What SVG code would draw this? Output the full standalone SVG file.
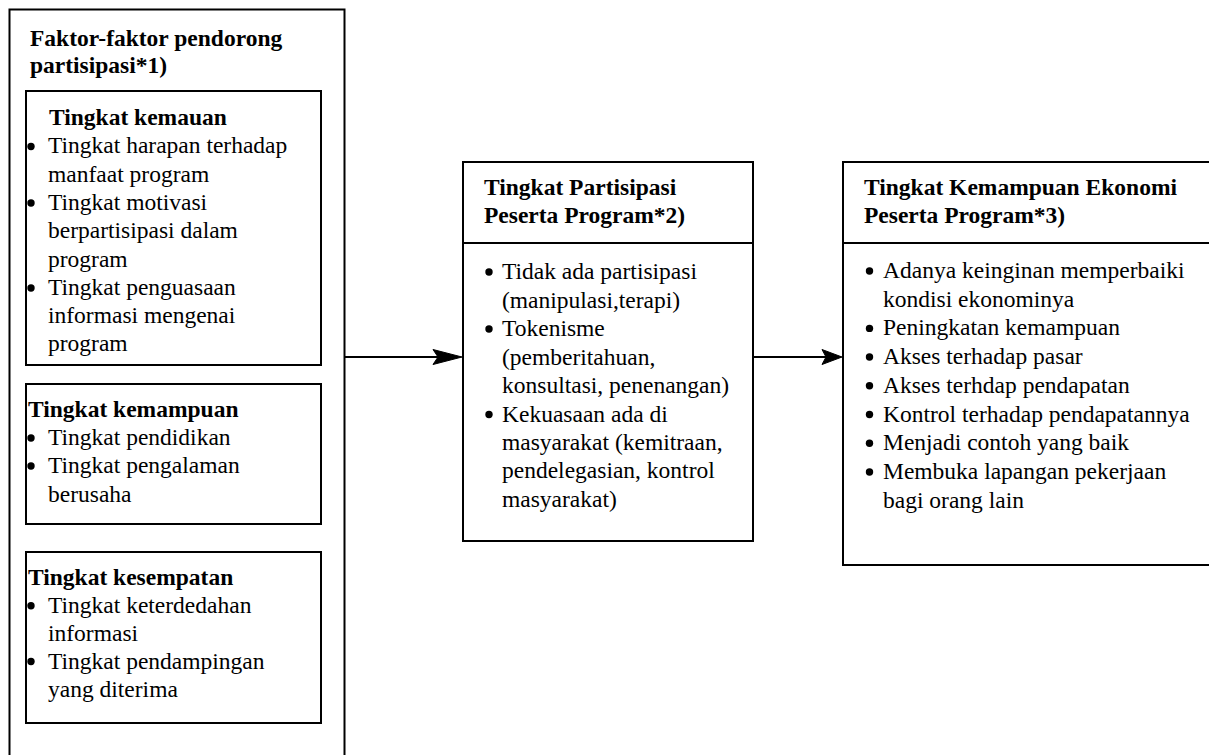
<svg xmlns="http://www.w3.org/2000/svg" width="1209" height="755" viewBox="0 0 1209 755">
<style>
  .box { fill: #ffffff; stroke: #000000; stroke-width: 2; }
  .div { stroke: #000000; stroke-width: 2; fill: none; }
  text { font-family: "Liberation Serif", "Times New Roman", serif; font-size: 23.5px; fill: #000000; }
  .b { font-weight: bold; }
  .dot { fill: #000000; }
  .conn { stroke: #000000; stroke-width: 2; fill: none; }
  .head { fill: #000000; stroke: #000000; stroke-width: 1; }
</style>
<defs>
  <circle id="dot" class="dot" cx="0" cy="0" r="3.7"/>
</defs>
<rect x="0" y="0" width="1209" height="755" fill="#ffffff"/>

<g id="faktor">
  <rect class="box" x="9.5" y="9.5" width="335" height="770"/>
  <text class="b" x="30" y="46">Faktor-faktor pendorong</text>
  <text class="b" x="30" y="73">partisipasi*1)</text>
</g>

<g id="kemauan">
  <rect class="box" x="26" y="91" width="295" height="274"/>
  <text class="b" x="49" y="125">Tingkat kemauan</text>
  <use href="#dot" x="31" y="146.5"/>
  <text x="48" y="153.3">Tingkat harapan terhadap</text>
  <text x="48" y="181.6">manfaat program</text>
  <use href="#dot" x="31" y="203"/>
  <text x="48" y="209.9">Tingkat motivasi</text>
  <text x="48" y="238.2">berpartisipasi dalam</text>
  <text x="48" y="266.5">program</text>
  <use href="#dot" x="31" y="288"/>
  <text x="48" y="294.8">Tingkat penguasaan</text>
  <text x="48" y="323.1">informasi mengenai</text>
  <text x="48" y="351.4">program</text>
</g>

<g id="kemampuan">
  <rect class="box" x="26" y="384" width="295" height="140"/>
  <text class="b" x="28" y="416.7">Tingkat kemampuan</text>
  <use href="#dot" x="31" y="438"/>
  <text x="48" y="445">Tingkat pendidikan</text>
  <use href="#dot" x="31" y="466"/>
  <text x="48" y="473">Tingkat pengalaman</text>
  <text x="48" y="501.5">berusaha</text>
</g>

<g id="kesempatan">
  <rect class="box" x="26" y="552" width="295" height="171"/>
  <text class="b" x="28" y="585">Tingkat kesempatan</text>
  <use href="#dot" x="31" y="605.7"/>
  <text x="48" y="612.7">Tingkat keterdedahan</text>
  <text x="48" y="640.5">informasi</text>
  <use href="#dot" x="31" y="661.5"/>
  <text x="48" y="668.5">Tingkat pendampingan</text>
  <text x="48" y="696.7">yang diterima</text>
</g>

<g id="partisipasi">
  <rect class="box" x="463" y="162" width="290" height="379"/>
  <line class="div" x1="463" y1="243" x2="753" y2="243"/>
  <text class="b" x="484" y="195">Tingkat Partisipasi</text>
  <text class="b" x="484" y="223">Peserta Program*2)</text>
  <use href="#dot" x="489" y="272"/>
  <text x="502" y="279">Tidak ada partisipasi</text>
  <text x="502" y="307.5">(manipulasi,terapi)</text>
  <use href="#dot" x="489" y="329"/>
  <text x="502" y="336">Tokenisme</text>
  <text x="502" y="364.5">(pemberitahuan,</text>
  <text x="502" y="393">konsultasi, penenangan)</text>
  <use href="#dot" x="489" y="414.5"/>
  <text x="502" y="421.5">Kekuasaan ada di</text>
  <text x="502" y="450">masyarakat (kemitraan,</text>
  <text x="502" y="478">pendelegasian, kontrol</text>
  <text x="502" y="506.5">masyarakat)</text>
</g>

<g id="ekonomi">
  <rect class="box" x="843" y="162" width="390" height="403"/>
  <line class="div" x1="843" y1="243" x2="1209" y2="243"/>
  <text class="b" x="864" y="195">Tingkat Kemampuan Ekonomi</text>
  <text class="b" x="864" y="223">Peserta Program*3)</text>
  <use href="#dot" x="869.5" y="271"/>
  <text x="883" y="278">Adanya keinginan memperbaiki</text>
  <text x="883" y="306.7">kondisi ekonominya</text>
  <use href="#dot" x="869.5" y="328.4"/>
  <text x="883" y="335.4">Peningkatan kemampuan</text>
  <use href="#dot" x="869.5" y="357"/>
  <text x="883" y="364">Akses terhadap pasar</text>
  <use href="#dot" x="869.5" y="385.8"/>
  <text x="883" y="392.8">Akses terhdap pendapatan</text>
  <use href="#dot" x="869.5" y="414.5"/>
  <text x="883" y="421.5">Kontrol terhadap pendapatannya</text>
  <use href="#dot" x="869.5" y="443.2"/>
  <text x="883" y="450.2">Menjadi contoh yang baik</text>
  <use href="#dot" x="869.5" y="472"/>
  <text x="883" y="479">Membuka lapangan pekerjaan</text>
  <text x="883" y="507.6">bagi orang lain</text>
</g>

<g id="connectors">
  <line class="conn" x1="344.5" y1="357" x2="440" y2="357"/>
  <polygon class="head" points="462,357 433,349.5 438,357 433,364.5"/>
  <line class="conn" x1="753" y1="357" x2="826" y2="357"/>
  <polygon class="head" points="842,357 822,349.5 826,357 822,364.5"/>
</g>
</svg>
